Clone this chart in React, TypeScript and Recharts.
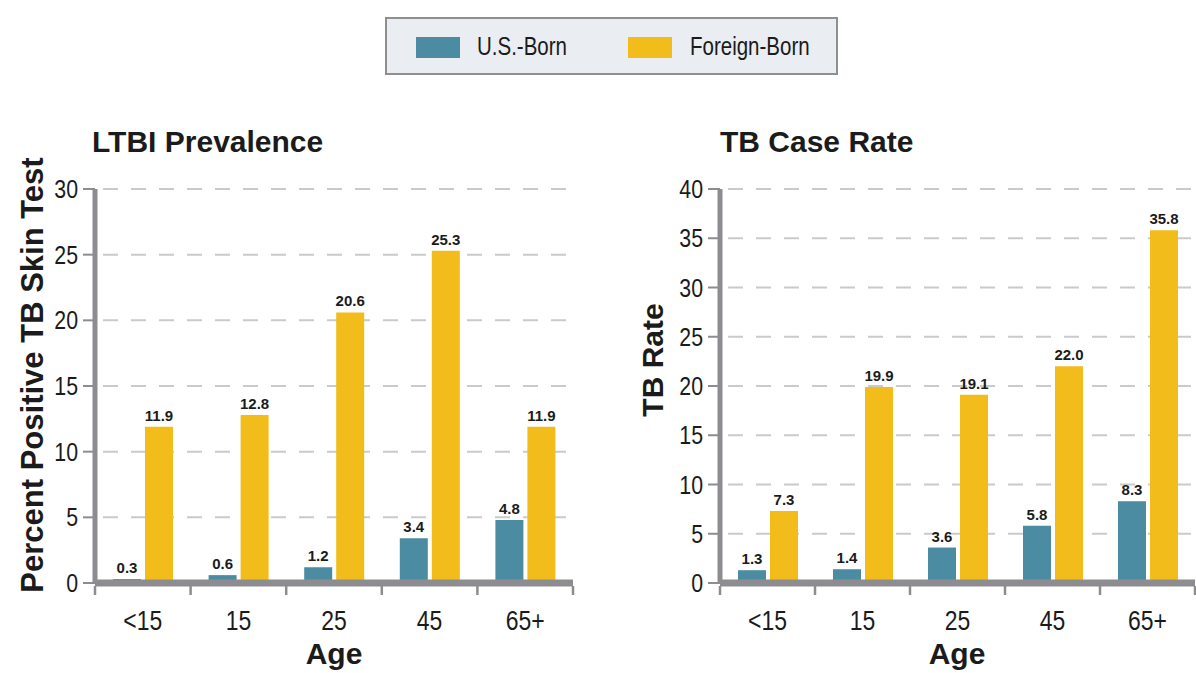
import { BarChart, Bar, XAxis, YAxis, CartesianGrid, LabelList } from 'recharts';

const AGE_GROUPS = ['<15', '15', '25', '45', '65+'];
const LTBI_US_BORN = [0.3, 0.6, 1.2, 3.4, 4.8];
const LTBI_FOREIGN_BORN = [11.9, 12.8, 20.6, 25.3, 11.9];
const TB_US_BORN = [1.3, 1.4, 3.6, 5.8, 8.3];
const TB_FOREIGN_BORN = [7.3, 19.9, 19.1, 22.0, 35.8];
const LTBI_TICKS = [0, 5, 10, 15, 20, 25, 30];
const TB_TICKS = [0, 5, 10, 15, 20, 25, 30, 35, 40];

const US_BLUE = '#4b8ca2';
const FOREIGN_YELLOW = '#f2bc1a';
const AXIS_GRAY = '#8d8d91';
const GRID_GRAY = '#cacaca';
const TEXT = '#1b1b1b';
const SANS = '"Liberation Sans", Arial, Helvetica, sans-serif';
// no narrow face installed, so squeeze Liberation Sans like Arial Narrow
const NARROW_SCALE = 0.82;

const H = 673;
const PLOT_TOP = 189;
const PLOT_BOTTOM = 583;
const X_AXIS_H = 50;

const buildRows = (us: number[], foreign: number[]) =>
  AGE_GROUPS.map((age, i) => ({ age, us: us[i], foreign: foreign[i] }));

function NarrowText({ x, y, size, anchor, children }: any) {
  return (
    <text
      transform={`translate(${x},${y}) scale(${NARROW_SCALE},1)`}
      textAnchor={anchor}
      fill={TEXT}
      fontFamily={SANS}
      fontSize={size}
    >
      {children}
    </text>
  );
}

function AgeTick(props: any) {
  const { x, y, payload, index, band } = props;
  const last = index === AGE_GROUPS.length - 1;
  return (
    <g>
      <line x1={x - band / 2} x2={x - band / 2} y1={y + 3} y2={y + 12} stroke={AXIS_GRAY} strokeWidth={2.5} />
      {last && (
        <line x1={x + band / 2} x2={x + band / 2} y1={y + 3} y2={y + 12} stroke={AXIS_GRAY} strokeWidth={2.5} />
      )}
      <NarrowText x={x} y={y + 47} size={28} anchor="middle">
        {payload.value}
      </NarrowText>
    </g>
  );
}

function ValueTick(props: any) {
  const { x, y, payload } = props;
  return (
    <NarrowText x={x} y={y + 9} size={26} anchor="end">
      {payload.value}
    </NarrowText>
  );
}

interface PanelProps {
  left: number;
  width: number;
  plotLeft: number;
  plotRight: number;
  us: number[];
  foreign: number[];
  ticks: number[];
}

function Panel({ left, width, plotLeft, plotRight, us, foreign, ticks }: PanelProps) {
  const rows = buildRows(us, foreign);
  const yAxisW = 60;
  const band = (plotRight - plotLeft) / AGE_GROUPS.length;
  const labelStyle = { fill: TEXT, fontFamily: SANS, fontWeight: 700, fontSize: 15 };
  return (
    <div style={{ position: 'absolute', left, top: 0 }}>
      <BarChart
        width={width}
        height={H}
        data={rows}
        barSize={28}
        barGap={4}
        margin={{
          top: PLOT_TOP,
          bottom: H - PLOT_BOTTOM - X_AXIS_H,
          left: plotLeft - left - yAxisW,
          right: left + width - plotRight,
        }}
      >
        <CartesianGrid
          vertical={false}
          stroke={GRID_GRAY}
          strokeWidth={2}
          strokeDasharray="15 13"
          strokeDashoffset={20}
        />
        <XAxis
          dataKey="age"
          height={X_AXIS_H}
          axisLine={{ stroke: AXIS_GRAY, strokeWidth: 7 }}
          tickLine={false}
          tickSize={0}
          tickMargin={0}
          interval={0}
          tick={(p: any) => <AgeTick {...p} band={band} />}
        />
        <YAxis
          width={yAxisW}
          domain={[ticks[0], ticks[ticks.length - 1]]}
          ticks={ticks}
          interval={0}
          axisLine={{ stroke: AXIS_GRAY, strokeWidth: 5 }}
          tickLine={{ stroke: AXIS_GRAY, strokeWidth: 2 }}
          tickSize={12}
          tickMargin={5}
          tick={(p: any) => <ValueTick {...p} />}
        />
        <Bar dataKey="us" name="U.S.-Born" fill={US_BLUE} isAnimationActive={false}>
          <LabelList
            dataKey="us"
            position="top"
            offset={6}
            formatter={(v: any) => Number(v).toFixed(1)}
            style={labelStyle}
          />
        </Bar>
        <Bar dataKey="foreign" name="Foreign-Born" fill={FOREIGN_YELLOW} isAnimationActive={false}>
          <LabelList
            dataKey="foreign"
            position="top"
            offset={6}
            formatter={(v: any) => Number(v).toFixed(1)}
            style={labelStyle}
          />
        </Bar>
      </BarChart>
    </div>
  );
}

function LegendBox() {
  const item = (x: number, color: string, label: string, textX: number) => (
    <>
      <div style={{ position: 'absolute', left: x, top: 18, width: 44, height: 21, background: color }} />
      <div
        style={{
          position: 'absolute',
          left: textX,
          top: 11,
          fontFamily: SANS,
          fontSize: 25,
          lineHeight: '32px',
          color: TEXT,
          whiteSpace: 'nowrap',
          transform: `scaleX(${NARROW_SCALE})`,
          transformOrigin: 'left center',
        }}
      >
        {label}
      </div>
    </>
  );
  return (
    <div
      style={{
        position: 'absolute',
        left: 385,
        top: 17,
        width: 453,
        height: 58,
        boxSizing: 'border-box',
        border: '2px solid #8f8f8f',
        background: '#eaeef2',
      }}
    >
      {item(29, US_BLUE, 'U.S.-Born', 90)}
      {item(241, FOREIGN_YELLOW, 'Foreign-Born', 303)}
    </div>
  );
}

export default function App() {
  const bold = { fontFamily: SANS, fontWeight: 700, fill: TEXT };
  return (
    <div style={{ position: 'absolute', left: 0, top: 0, width: 1196, height: H, background: '#fff', overflow: 'hidden' }}>
      <Panel left={0} width={600} plotLeft={95} plotRight={573} us={LTBI_US_BORN} foreign={LTBI_FOREIGN_BORN} ticks={LTBI_TICKS} />
      <Panel left={600} width={596} plotLeft={720} plotRight={1195} us={TB_US_BORN} foreign={TB_FOREIGN_BORN} ticks={TB_TICKS} />
      <svg width={1196} height={H} style={{ position: 'absolute', left: 0, top: 0, pointerEvents: 'none' }}>
        <text x={92} y={152} fontSize={30} {...bold}>LTBI Prevalence</text>
        <text x={720} y={152} fontSize={30} {...bold}>TB Case Rate</text>
        <text x={43} y={375} fontSize={31} textAnchor="middle" transform="rotate(-90, 43, 375)" {...bold}>
          Percent Positive TB Skin Test
        </text>
        <text x={663} y={360} fontSize={30} textAnchor="middle" transform="rotate(-90, 663, 360)" {...bold}>
          TB Rate
        </text>
        <text x={334} y={664} fontSize={30} textAnchor="middle" {...bold}>Age</text>
        <text x={957} y={664} fontSize={30} textAnchor="middle" {...bold}>Age</text>
      </svg>
      <LegendBox />
    </div>
  );
}
